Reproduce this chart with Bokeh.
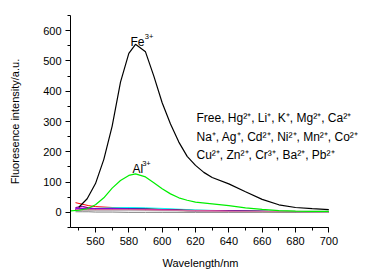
from bokeh.plotting import figure
from bokeh.models import Range1d, SingleIntervalTicker, Label, Title
from bokeh.embed import file_html
from bokeh.resources import INLINE

# Fe3+ (black) and Al3+ (green) spectra
wl_fe = [550, 555, 560, 565, 570, 575, 580, 584, 590, 595, 600, 605, 610, 615,
         620, 625, 630, 640, 650, 660, 670, 680, 690, 700]
fe = [17, 45, 95, 175, 285, 430, 525, 555, 530, 450, 362, 292, 232, 185,
      155, 132, 115, 94, 68, 43, 25, 16, 12, 9]

wl_al = [545, 550, 555, 560, 565, 570, 575, 580, 584, 590, 595, 600, 605, 610,
         615, 620, 630, 640, 650, 660, 670, 680, 690, 700]
al = [5, 7, 12, 25, 48, 80, 105, 122, 127, 117, 98, 78, 61, 48,
      40, 34, 28, 22, 15, 10, 6, 4, 3, 3]

# other ions (near baseline)
wl_other = [548, 552, 556, 560, 570, 580, 590, 600, 620, 640, 660, 680, 700]
ions = ["Free", "Hg", "Li", "K", "Mg", "Ca", "Na", "Ag", "Cd", "Ni", "Mn",
        "Co", "Cu", "Zn", "Cr", "Ba", "Pb"]
other_vals = {
    "Free": [32, 27, 22, 19, 16, 15, 13, 11, 7, 5, 4, 3, 3],
    "Hg": [12, 11, 11, 11, 12, 12, 11, 9, 6, 4, 3, 2, 2],
    "Li": [10, 11, 12, 13, 15, 16, 15, 13, 8, 5, 4, 3, 3],
    "K": [14, 18, 15, 12, 11, 10, 9, 8, 6, 4, 3, 2, 2],
    "Mg": [8, 9, 9, 10, 11, 11, 10, 9, 6, 4, 3, 2, 2],
    "Ca": [9, 10, 10, 10, 10, 10, 9, 8, 5, 4, 3, 2, 2],
    "Na": [16, 20, 15, 12, 11, 10, 9, 8, 5, 4, 3, 2, 2],
    "Ag": [7, 8, 8, 9, 9, 9, 8, 7, 5, 3, 2, 2, 2],
    "Cd": [8, 8, 9, 9, 10, 10, 9, 8, 5, 4, 3, 2, 2],
    "Ni": [9, 10, 10, 11, 12, 12, 11, 9, 6, 4, 3, 2, 2],
    "Mn": [10, 11, 11, 11, 11, 11, 10, 8, 5, 4, 3, 2, 2],
    "Co": [7, 7, 8, 8, 9, 9, 8, 7, 5, 3, 2, 2, 2],
    "Cu": [11, 12, 12, 12, 12, 11, 10, 8, 5, 4, 3, 2, 2],
    "Zn": [10, 10, 10, 10, 10, 10, 9, 8, 6, 4, 3, 3, 2],
    "Cr": [2, 2, 2, 1, 1, 0, 0, 0, 0, 0, 0, 0, 0],
    "Ba": [6, 6, 6, 6, 6, 6, 6, 5, 4, 3, 2, 2, 1],
    "Pb": [9, 9, 9, 9, 9, 9, 8, 7, 5, 3, 3, 2, 2],
}
other_colors = ["#FF0000", "#0000FF", "#00FFFF", "#FF00FF", "#808000",
                "#000080", "#800080", "#800000", "#808000", "#008080",
                "#0000A0", "#FF8000", "#8000FF", "#FF0080", "#808080",
                "#C0C0C0", "#D070A0"]

legend_lines = ["Free, Hg²⁺, Li⁺, K⁺, Mg²⁺, Ca²⁺",
                "Na⁺, Ag⁺, Cd²⁺, Ni²⁺, Mn²⁺, Co²⁺",
                "Cu²⁺, Zn²⁺, Cr³⁺, Ba²⁺, Pb²⁺"]

FONT = "Liberation Sans"

# frame spans to the right edge so the annotation text is not clipped;
# the x axis itself is bounded to 545-700
p = figure(width=380, height=278, output_backend="svg", toolbar_location=None,
           x_range=Range1d(545, 731), y_range=Range1d(-50, 650),
           min_border_left=70, min_border_right=0, min_border_top=15,
           min_border_bottom=51)
p.outline_line_color = None
p.xgrid.visible = False
p.ygrid.visible = False
p.background_fill_color = "white"
p.border_fill_color = "white"

for ion, c in zip(ions, other_colors):
    p.line(wl_other, other_vals[ion], line_color=c, line_width=1)
p.line(wl_al, al, line_color="#00EE00", line_width=1.2)
p.line(wl_fe, fe, line_color="black", line_width=1.2)

for ax in (p.xaxis[0], p.yaxis[0]):
    ax.axis_line_color = "black"
    ax.axis_line_width = 1
    ax.major_tick_line_color = "black"
    ax.minor_tick_line_color = "black"
    ax.major_tick_in = 0
    ax.major_tick_out = 5
    ax.minor_tick_in = 0
    ax.minor_tick_out = 3
    ax.major_label_text_font = FONT
    ax.major_label_text_font_size = "11px"
    ax.major_label_text_color = "black"
    ax.axis_label_text_font = FONT
    ax.axis_label_text_font_size = "11px"
    ax.axis_label_text_font_style = "normal"
    ax.axis_label_text_color = "black"

p.xaxis[0].ticker = SingleIntervalTicker(interval=20, num_minor_ticks=2)
p.yaxis[0].ticker = SingleIntervalTicker(interval=100, num_minor_ticks=2)
p.xaxis[0].bounds = (545, 700)
p.yaxis[0].axis_label = "Fluoresence intensity/a.u."
p.xaxis[0].major_label_standoff = 4
p.yaxis[0].major_label_standoff = 4
p.yaxis[0].axis_label_standoff = 19

# x-axis title, centred under the 545-700 axis (not under the wider frame)
p.add_layout(Title(text="Wavelength/nm", align="left", offset=92, standoff=14,
                   text_font=FONT, text_font_size="11px",
                   text_font_style="normal", text_color="black"), "below")

def lab(x, y, t, size="11px"):
    p.add_layout(Label(x=x, y=y, text=t, text_font=FONT, text_font_size=size,
                       text_color="black", text_baseline="alphabetic"))

lab(581, 562, "Fe", "12px")
lab(589.6, 580, "3+", "7.5px")
lab(582.2, 144, "Al", "12px")
lab(588.0, 160, "3+", "7.5px")
lab(620.6, 312, legend_lines[0], "12px")
lab(620.6, 250, legend_lines[1], "12px")
lab(620.6, 191, legend_lines[2], "12px")

open("out.html", "w").write(file_html(p, INLINE))
